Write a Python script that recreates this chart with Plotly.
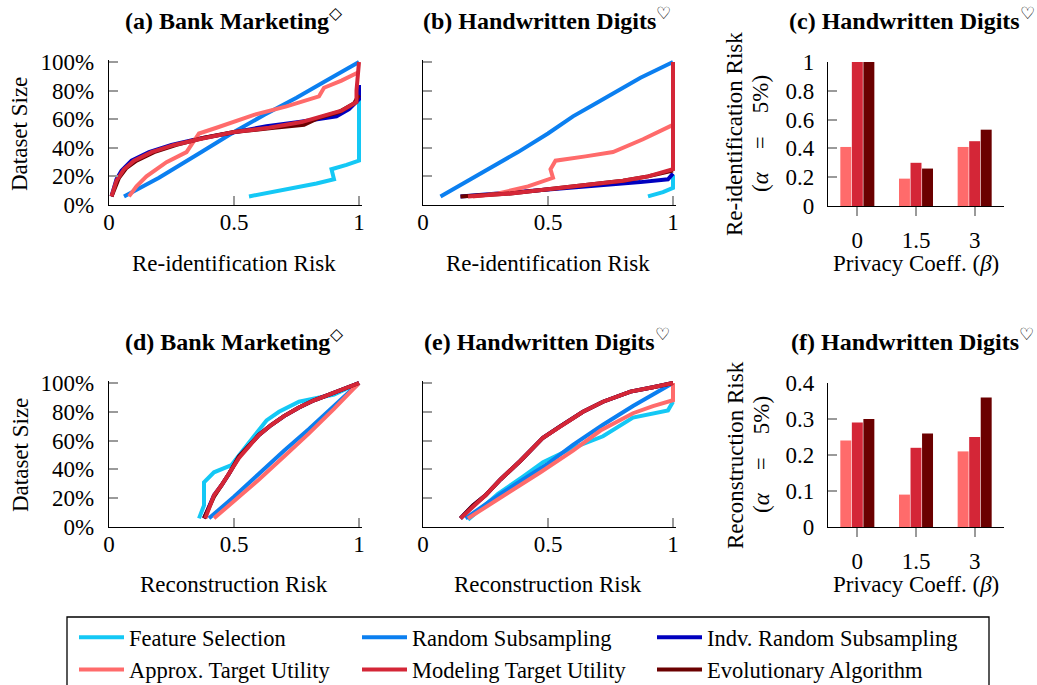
import plotly.graph_objects as go

W, H = 1037, 685
FONT = "Liberation Serif, Times New Roman, serif"
FS = 23

# ---------------- data ----------------
methods = ["Feature Selection", "Random Subsampling", "Indv. Random Subsampling",
           "Approx. Target Utility", "Modeling Target Utility", "Evolutionary Algorithm"]
method_colors = ["#14c8f5", "#0b7ff0", "#0000bf", "#ff6b6b", "#d42637", "#6b0000"]
method_legend = ["legend", "legend2", "legend3", "legend", "legend2", "legend3"]
draw_order = [0, 1, 2, 3, 5, 4]   # Modeling drawn on top

# (a) Bank Marketing - re-identification risk
a_fs_x = [0.56, 0.65, 0.75, 0.83, 0.90, 0.89, 0.95, 1.00, 1.00]
a_fs_y = [0.06, 0.09, 0.12, 0.15, 0.18, 0.25, 0.28, 0.31, 0.75]
a_rs_x = [0.06, 0.20, 0.36, 0.50, 0.62, 0.75, 0.87, 1.00]
a_rs_y = [0.06, 0.19, 0.36, 0.51, 0.63, 0.75, 0.87, 1.00]
a_irs_x = [0.01, 0.03, 0.05, 0.09, 0.16, 0.25, 0.35, 0.50, 0.63, 0.76, 0.87, 0.91, 0.96, 1.00, 1.00]
a_irs_y = [0.06, 0.18, 0.24, 0.31, 0.37, 0.42, 0.46, 0.51, 0.55, 0.58, 0.61, 0.62, 0.67, 0.74, 0.84]
a_ats_x = [0.08, 0.11, 0.15, 0.23, 0.31, 0.36, 0.43, 0.50, 0.58, 0.71, 0.84, 0.86, 0.93, 1.00]
a_ats_y = [0.06, 0.13, 0.20, 0.30, 0.37, 0.50, 0.54, 0.58, 0.63, 0.69, 0.76, 0.82, 0.87, 0.93]
a_mtu_x = [0.01, 0.03, 0.06, 0.10, 0.17, 0.26, 0.36, 0.50, 0.64, 0.77, 0.85, 0.93, 0.99, 0.99, 1.00]
a_mtu_y = [0.06, 0.17, 0.25, 0.31, 0.37, 0.42, 0.46, 0.51, 0.54, 0.58, 0.62, 0.66, 0.72, 0.80, 1.00]
a_ea_x = [0.01, 0.04, 0.07, 0.11, 0.18, 0.27, 0.38, 0.50, 0.66, 0.78, 0.84, 0.92, 0.98, 1.00]
a_ea_y = [0.06, 0.19, 0.26, 0.31, 0.37, 0.42, 0.47, 0.51, 0.54, 0.56, 0.61, 0.65, 0.71, 0.77]

# (b) Handwritten Digits - re-identification risk
b_fs_x = [0.90, 0.96, 1.00, 1.00]
b_fs_y = [0.06, 0.09, 0.12, 0.21]
b_rs_x = [0.07, 0.31, 0.38, 0.50, 0.60, 0.68, 0.76, 0.87, 1.00]
b_rs_y = [0.06, 0.30, 0.37, 0.50, 0.62, 0.70, 0.78, 0.89, 1.00]
b_irs_x = [0.15, 0.30, 0.45, 0.60, 0.75, 0.87, 0.98, 1.00]
b_irs_y = [0.06, 0.08, 0.10, 0.12, 0.14, 0.16, 0.18, 0.22]
b_ats_x = [0.20, 0.30, 0.42, 0.52, 0.51, 0.53, 0.65, 0.76, 0.88, 1.00]
b_ats_y = [0.06, 0.08, 0.13, 0.19, 0.25, 0.31, 0.34, 0.37, 0.46, 0.56]
b_mtu_x = [0.18, 0.35, 0.50, 0.65, 0.80, 0.90, 1.00, 1.00]
b_mtu_y = [0.06, 0.08, 0.11, 0.14, 0.17, 0.20, 0.25, 1.00]
b_ea_x = [0.15, 0.35, 0.50, 0.65, 0.80, 0.90, 1.00]
b_ea_y = [0.06, 0.08, 0.11, 0.14, 0.17, 0.20, 0.24]

# (d) Bank Marketing - reconstruction risk
d_fs_x = [0.36, 0.38, 0.38, 0.42, 0.49, 0.52, 0.58, 0.63, 0.68, 0.76, 0.84, 0.90, 1.00]
d_fs_y = [0.06, 0.15, 0.31, 0.38, 0.43, 0.50, 0.63, 0.74, 0.80, 0.87, 0.90, 0.92, 1.00]
d_rs_x = [0.40, 0.50, 0.60, 0.70, 0.80, 0.90, 1.00]
d_rs_y = [0.06, 0.21, 0.37, 0.53, 0.68, 0.84, 1.00]
d_irs_x = [0.38, 0.40, 0.42, 0.45, 0.48, 0.52, 0.56, 0.60, 0.65, 0.70, 0.76, 0.82, 0.88, 0.94, 1.00]
d_irs_y = [0.06, 0.14, 0.22, 0.29, 0.37, 0.49, 0.57, 0.64, 0.71, 0.77, 0.83, 0.88, 0.92, 0.96, 1.00]
d_ats_x = [0.42, 0.50, 0.60, 0.70, 0.80, 0.90, 1.00]
d_ats_y = [0.06, 0.18, 0.33, 0.49, 0.65, 0.82, 1.00]
d_mtu_x = [0.385, 0.40, 0.42, 0.45, 0.48, 0.52, 0.56, 0.60, 0.65, 0.70, 0.76, 0.82, 0.88, 0.94, 1.00]
d_mtu_y = [0.06, 0.13, 0.22, 0.29, 0.37, 0.48, 0.56, 0.64, 0.71, 0.77, 0.83, 0.88, 0.92, 0.96, 1.00]
d_ea_x = [0.38, 0.40, 0.42, 0.45, 0.48, 0.52, 0.56, 0.60, 0.65, 0.70, 0.76, 0.82, 0.88, 0.94, 1.00]
d_ea_y = [0.06, 0.13, 0.21, 0.29, 0.37, 0.49, 0.57, 0.64, 0.71, 0.77, 0.83, 0.88, 0.92, 0.96, 1.00]

# (e) Handwritten Digits - reconstruction risk
e_fs_x = [0.18, 0.30, 0.40, 0.48, 0.60, 0.72, 0.84, 0.93, 0.98, 1.00]
e_fs_y = [0.05, 0.23, 0.35, 0.45, 0.55, 0.63, 0.76, 0.79, 0.81, 0.87]
e_rs_x = [0.17, 0.31, 0.40, 0.50, 0.60, 0.72, 0.84, 0.92, 1.00]
e_rs_y = [0.06, 0.23, 0.33, 0.44, 0.57, 0.71, 0.84, 0.92, 1.00]
e_irs_x = [0.15, 0.20, 0.25, 0.31, 0.39, 0.48, 0.55, 0.64, 0.72, 0.83, 0.92, 1.00]
e_irs_y = [0.06, 0.15, 0.22, 0.33, 0.46, 0.62, 0.70, 0.80, 0.87, 0.94, 0.97, 1.00]
e_ats_x = [0.18, 0.31, 0.47, 0.60, 0.71, 0.84, 0.92, 1.00, 1.00]
e_ats_y = [0.06, 0.20, 0.38, 0.53, 0.67, 0.79, 0.84, 0.88, 1.00]
e_mtu_x = [0.15, 0.20, 0.25, 0.31, 0.39, 0.48, 0.55, 0.64, 0.72, 0.83, 0.92, 1.00]
e_mtu_y = [0.06, 0.14, 0.22, 0.33, 0.46, 0.62, 0.70, 0.80, 0.87, 0.94, 0.97, 1.00]
e_ea_x = [0.15, 0.20, 0.25, 0.31, 0.39, 0.48, 0.55, 0.64, 0.72, 0.83, 0.92, 1.00]
e_ea_y = [0.06, 0.15, 0.22, 0.33, 0.46, 0.62, 0.70, 0.80, 0.87, 0.94, 0.97, 1.00]

# (c)/(f) bars
beta_labels = ["0", "1.5", "3"]
bar_methods = [3, 4, 5]
c_ats = [0.41, 0.19, 0.41]
c_mtu = [1.00, 0.30, 0.45]
c_ea = [1.00, 0.26, 0.53]
f_ats = [0.24, 0.09, 0.21]
f_mtu = [0.29, 0.22, 0.25]
f_ea = [0.30, 0.26, 0.36]

pct_vals = [0, 0.2, 0.4, 0.6, 0.8, 1.0]
pct_text = ["0%", "20%", "40%", "60%", "80%", "100%"]
risk_vals = [0, 0.5, 1]
risk_text = ["0", "0.5", "1"]
c_vals = [0, 0.2, 0.4, 0.6, 0.8, 1.0]
c_text = ["0", "0.2", "0.4", "0.6", "0.8", "1"]
f_vals = [0, 0.1, 0.2, 0.3, 0.4]
f_text = ["0", "0.1", "0.2", "0.3", "0.4"]

line_sets = {
    "a": [(a_fs_x, a_fs_y), (a_rs_x, a_rs_y), (a_irs_x, a_irs_y), (a_ats_x, a_ats_y), (a_mtu_x, a_mtu_y), (a_ea_x, a_ea_y)],
    "b": [(b_fs_x, b_fs_y), (b_rs_x, b_rs_y), (b_irs_x, b_irs_y), (b_ats_x, b_ats_y), (b_mtu_x, b_mtu_y), (b_ea_x, b_ea_y)],
    "d": [(d_fs_x, d_fs_y), (d_rs_x, d_rs_y), (d_irs_x, d_irs_y), (d_ats_x, d_ats_y), (d_mtu_x, d_mtu_y), (d_ea_x, d_ea_y)],
    "e": [(e_fs_x, e_fs_y), (e_rs_x, e_rs_y), (e_irs_x, e_irs_y), (e_ats_x, e_ats_y), (e_mtu_x, e_mtu_y), (e_ea_x, e_ea_y)],
}
bar_sets = {"c": [c_ats, c_mtu, c_ea], "f": [f_ats, f_mtu, f_ea]}

# ---------------- layout helpers (pixels -> paper) ----------------
def xp(px):
    return px / W

def yp(py):
    return 1 - py / H

XPAD, YPAD = 0.012, 0.015
cols = {"a": (109, 359), "b": (423, 673), "d": (109, 359), "e": (423, 673), "c": (828, 1004), "f": (828, 1004)}
rows = {"a": (205, 62), "b": (205, 62), "c": (206, 62), "d": (527, 383), "e": (527, 383), "f": (527, 383)}
axis_ids = {"a": 1, "b": 2, "c": 3, "d": 4, "e": 5, "f": 6}

fig = go.Figure()

for key in ["a", "b", "d", "e"]:
    n = axis_ids[key]
    for mi in draw_order:
        xs, ys = line_sets[key][mi]
        fig.add_trace(go.Scatter(
            x=xs, y=ys, mode="lines", name=methods[mi],
            line=dict(color=method_colors[mi], width=4),
            xaxis="x" if n == 1 else f"x{n}", yaxis="y" if n == 1 else f"y{n}",
            showlegend=(key == "a"), legend=method_legend[mi], legendrank=mi + 1,
            hoverinfo="skip"))

for key in ["c", "f"]:
    n = axis_ids[key]
    for vals, mi in zip(bar_sets[key], bar_methods):
        fig.add_trace(go.Bar(
            x=beta_labels, y=vals, name=methods[mi], marker=dict(color=method_colors[mi], line=dict(width=0)),
            xaxis=f"x{n}", yaxis=f"y{n}", showlegend=False, hoverinfo="skip"))

tickfont = dict(family=FONT, size=FS, color="black")
common = dict(showgrid=False, zeroline=False, showline=True, linecolor="black", linewidth=1.3,
              tickfont=tickfont, tickcolor="#9a9a9a", tickwidth=1.5, ticklen=9)

layout_axes = {}
for key, n in axis_ids.items():
    x0, x1 = cols[key]
    y0, y1 = rows[key]
    xname = "xaxis" if n == 1 else f"xaxis{n}"
    yname = "yaxis" if n == 1 else f"yaxis{n}"
    anchor_x = "y" if n == 1 else f"y{n}"
    anchor_y = "x" if n == 1 else f"x{n}"
    if key in ("c", "f"):
        layout_axes[xname] = dict(common, domain=[xp(x0), xp(x1)], range=[-0.5, 2.5], type="category",
                                  anchor=anchor_x, ticks="outside", ticklabelstandoff=4)
        top = 1.0 if key == "c" else 0.4
        layout_axes[yname] = dict(common, domain=[yp(y0), yp(y1)], range=[0, top], anchor=anchor_y,
                                  ticks="inside", tickvals=c_vals if key == "c" else f_vals,
                                  ticktext=c_text if key == "c" else f_text, ticklabelstandoff=8)
    else:
        xr = x1 + (x1 - x0) * XPAD
        yr = y1 - (y0 - y1) * YPAD
        layout_axes[xname] = dict(common, domain=[xp(x0), xp(xr)], range=[0, 1 + XPAD], anchor=anchor_x,
                                  ticks="inside", tickvals=risk_vals, ticktext=risk_text, ticklabelstandoff=-4)
        layout_axes[yname] = dict(common, domain=[yp(y0), yp(yr)], range=[0, 1 + YPAD], anchor=anchor_y,
                                  ticks="inside", tickvals=pct_vals, ticktext=pct_text,
                                  showticklabels=(key in ("a", "d")), ticklabelstandoff=9)

annotations = []
def ann(text, x, y, size=FS, angle=0, xanchor="center"):
    annotations.append(dict(text=text, x=xp(x), y=yp(y), xref="paper", yref="paper", showarrow=False,
                            textangle=angle, font=dict(family=FONT, size=size, color="black"),
                            xanchor=xanchor, yanchor="middle"))

titles = {
    "a": ("<b>(a) Bank Marketing</b><sup>◇</sup>", 234),
    "b": ("<b>(b) Handwritten Digits</b><sup>♡</sup>", 547),
    "c": ("<b>(c) Handwritten Digits</b><sup>♡</sup>", 912),
    "d": ("<b>(d) Bank Marketing</b><sup>◇</sup>", 234),
    "e": ("<b>(e) Handwritten Digits</b><sup>♡</sup>", 547),
    "f": ("<b>(f) Handwritten Digits</b><sup>♡</sup>", 912),
}
title_y = {"a": 19, "b": 19, "c": 19, "d": 340, "e": 340, "f": 340}
for key, (t, cx) in titles.items():
    ann(t, cx, title_y[key], size=24)

ann("Re-identification Risk", 234, 263)
ann("Re-identification Risk", 548, 263)
ann("Reconstruction Risk", 234, 584)
ann("Reconstruction Risk", 548, 584)
ann("Privacy Coeff. (<i>β</i>)", 916, 263)
ann("Privacy Coeff. (<i>β</i>)", 916, 584)
ann("Dataset Size", 20, 134, angle=-90)
ann("Dataset Size", 20, 455, angle=-90)
ann("Re-identification Risk", 735, 134, angle=-90)
ann("(<i>α</i>\u2003=\u20035%)", 761, 134, angle=-90)
ann("Reconstruction Risk", 735, 455, angle=-90)
ann("(<i>α</i>\u2003=\u20035%)", 761, 455, angle=-90)

legend_common = dict(orientation="v", xanchor="left", y=yp(616), yanchor="top",
                     itemwidth=45, font=dict(family=FONT, size=22.5, color="black"),
                     bgcolor="rgba(0,0,0,0)", borderwidth=0, traceorder="normal")

fig.update_layout(
    width=W, height=H,
    margin=dict(l=0, r=0, t=0, b=0, autoexpand=False),
    paper_bgcolor="white", plot_bgcolor="white",
    font=dict(family=FONT, size=FS, color="black"),
    barmode="group", bargap=0.41, bargroupgap=0.05,
    annotations=annotations,
    legend=dict(legend_common, x=xp(74)),
    legend2=dict(legend_common, x=xp(357)),
    legend3=dict(legend_common, x=xp(652)),
    shapes=[dict(type="rect", xref="paper", yref="paper", x0=xp(67), x1=xp(989), y0=yp(700), y1=yp(617),
                 line=dict(color="black", width=1.3), fillcolor="rgba(0,0,0,0)", layer="above")],
    **layout_axes,
)

fig.write_html("out.html", config={"displayModeBar": False},
               post_script="document.body.style.margin='0px';")
